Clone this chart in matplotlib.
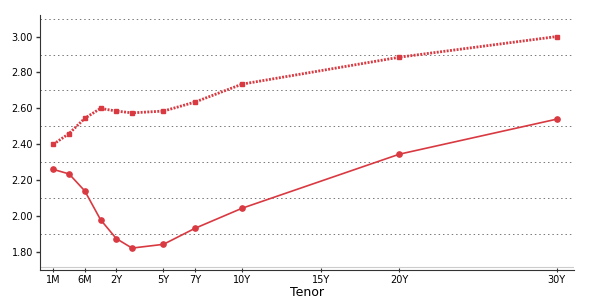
import numpy as np
import matplotlib.pyplot as plt

# tenor positions (1M..1Y squeezed onto a unit grid like the original chart)
tenors = ["1M", "3M", "6M", "1Y", "2Y", "3Y", "5Y", "7Y", "10Y", "20Y", "30Y"]
xpos = [-2, -1, 0, 1, 2, 3, 5, 7, 10, 20, 30]
upper = [2.40, 2.46, 2.545, 2.60, 2.585, 2.575, 2.585, 2.635, 2.735, 2.885, 3.00]
lower = [2.26, 2.235, 2.14, 1.98, 1.875, 1.822, 1.843, 1.932, 2.044, 2.345, 2.54]

tick_pos = [-2, 0, 2, 5, 7, 10, 15, 20, 30]
tick_lab = ["1M", "6M", "2Y", "5Y", "7Y", "10Y", "15Y", "20Y", "30Y"]

red = "#d93a42"

fig = plt.figure(figsize=(6.02, 3.07), dpi=100)
ax = fig.add_axes([40/602, 37/307, 534/602, 255/307])

ax.plot(xpos, upper, color=red, lw=2.0, ls=(0, (0.7, 0.5)), marker="s", ms=3.0, zorder=3)
ax.plot(xpos, lower, color=red, lw=1.2, marker="o", ms=3.8, zorder=3)

ax.set_xlim(-2.85, 31.1)
ax.set_ylim(1.70, 3.12)

ax.set_yticks(np.arange(1.8, 3.01, 0.2))
ax.set_yticklabels([f"{v:.2f}" for v in np.arange(1.8, 3.01, 0.2)], fontsize=7)
ax.set_yticks(np.arange(1.9, 3.11, 0.2), minor=True)
ax.yaxis.grid(True, which="minor", color="#777777", ls=(0, (1.5, 3)), lw=0.7)
ax.tick_params(axis="y", which="minor", length=0)
ax.tick_params(axis="y", which="major", length=3, width=1, color="#333333", pad=2)

ax.set_xticks(tick_pos)
ax.set_xticklabels(tick_lab, fontsize=7)
ax.tick_params(axis="x", length=3, direction="inout", color="#333333", pad=2)
ax.set_xlabel("Tenor", fontsize=9, labelpad=1)

for s in ["top", "right"]:
    ax.spines[s].set_visible(False)
ax.spines["left"].set_color("#333333")
ax.spines["bottom"].set_color("#333333")
ax.axhline(1.715, color="#cccccc", lw=0.8)

fig.savefig("out.png", dpi=100)
